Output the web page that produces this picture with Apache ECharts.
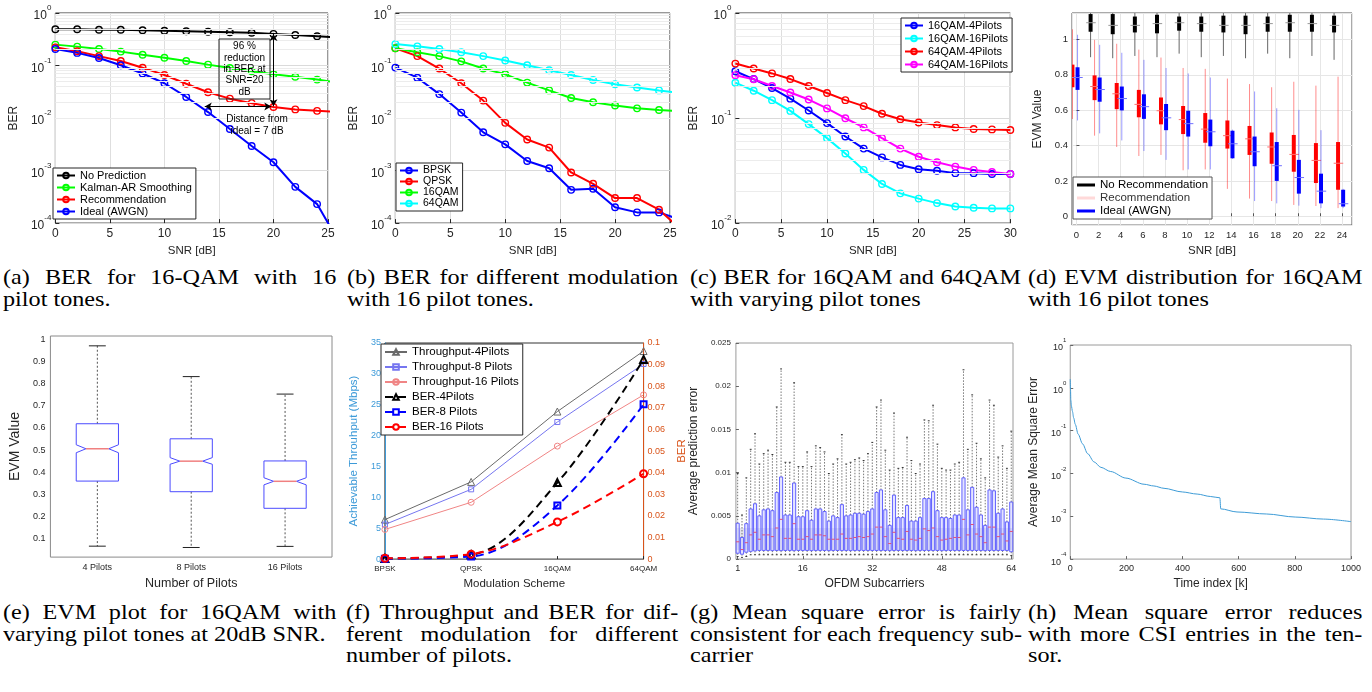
<!DOCTYPE html>
<html>
<head>
<meta charset="utf-8">
<title>CSI prediction results</title>
<script src="https://cdn.jsdelivr.net/npm/echarts@6.0.0/dist/echarts.min.js"></script>
<style>
  body { margin:0; width:1372px; height:692px; overflow:hidden; background:#fff; position:relative; }
  .pane { position:absolute; }
  .cap { position:absolute; font-family:"Liberation Serif","Times New Roman",serif; font-size:22px; line-height:21.5px;
         color:#000; transform:scaleX(1.1); transform-origin:0 0; }
  .cap div { white-space:nowrap; }
  .cap div.j { text-align:justify; text-align-last:justify; }
</style>
</head>
<body>
<div id="pa" class="pane" style="left:0;top:0;width:340px;height:262px"></div>
<div id="pb" class="pane" style="left:340px;top:0;width:340px;height:262px"></div>
<div id="pc" class="pane" style="left:680px;top:0;width:340px;height:262px"></div>
<div id="pd" class="pane" style="left:1020px;top:0;width:352px;height:262px"></div>
<div id="pe" class="pane" style="left:0;top:330px;width:340px;height:265px"></div>
<div id="pf" class="pane" style="left:340px;top:330px;width:356px;height:265px"></div>
<div id="pg" class="pane" style="left:680px;top:330px;width:340px;height:265px"></div>
<div id="ph" class="pane" style="left:1020px;top:330px;width:352px;height:265px"></div>

<div class="cap" style="left:3px;top:266px;width:303px"><div class="j">(a) BER for 16-QAM with 16</div><div>pilot tones.</div></div>
<div class="cap" style="left:347px;top:266px;width:301px"><div class="j">(b) BER for different modulation</div><div>with 16 pilot tones.</div></div>
<div class="cap" style="left:690px;top:266px;width:301px"><div class="j">(c) BER for 16QAM and 64QAM</div><div>with varying pilot tones</div></div>
<div class="cap" style="left:1028px;top:266px;width:304px"><div class="j">(d) EVM distribution for 16QAM</div><div>with 16 pilot tones</div></div>
<div class="cap" style="left:3px;top:601px;width:303px"><div class="j">(e) EVM plot for 16QAM with</div><div>varying pilot tones at 20dB SNR.</div></div>
<div class="cap" style="left:346px;top:601px;width:302px"><div class="j">(f) Throughput and BER for dif-</div><div class="j">ferent modulation for different</div><div>number of pilots.</div></div>
<div class="cap" style="left:690px;top:601px;width:301px"><div class="j">(g) Mean square error is fairly</div><div class="j">consistent for each frequency sub-</div><div>carrier</div></div>
<div class="cap" style="left:1028px;top:601px;width:304px"><div class="j">(h) Mean square error reduces</div><div class="j">with more CSI entries in the ten-</div><div>sor.</div></div>

<script>
// ---------- (a) BER for 16-QAM, 16 pilots ----------
const snrA = [0, 2, 4, 6, 8, 10, 12, 14, 16, 18, 20, 22, 24, 26];
const berNoPred = [0.49, 0.49, 0.48, 0.48, 0.47, 0.46, 0.45, 0.44, 0.43, 0.42, 0.40, 0.38, 0.36, 0.34];
const berKalman = [0.25, 0.229, 0.207, 0.184, 0.16, 0.141, 0.122, 0.104, 0.09, 0.078, 0.068, 0.061, 0.054, 0.047];
const berRecom = [0.222, 0.187, 0.151, 0.122, 0.091, 0.066, 0.045, 0.031, 0.0234, 0.0192, 0.0162, 0.0146, 0.0137, 0.013];
const berIdeal = [0.207, 0.174, 0.139, 0.101, 0.0706, 0.046, 0.0252, 0.013, 0.0062, 0.00294, 0.00144, 0.00049, 0.00023, 0.000044];

// ---------- (b) BER per modulation ----------
const snrB = [0, 2, 4, 6, 8, 10, 12, 14, 16, 18, 20, 22, 24, 26];
const berBpsk = [0.0914, 0.0587, 0.0286, 0.0127, 0.00536, 0.00316, 0.00152, 0.00111, 0.00043, 0.00045, 0.0002, 0.00016, 0.00016, 0.000115];
const berQpsk = [0.213, 0.151, 0.0876, 0.046, 0.0215, 0.0081, 0.0039, 0.00274, 0.00092, 0.00056, 0.0003, 0.0003, 0.00018, 0.000076];
const ber16qam = [0.213, 0.179, 0.151, 0.12, 0.0876, 0.068, 0.0473, 0.0336, 0.0241, 0.02, 0.0173, 0.0153, 0.0142, 0.0136];
const ber64qam = [0.256, 0.232, 0.207, 0.179, 0.151, 0.125, 0.101, 0.0815, 0.0658, 0.053, 0.044, 0.0382, 0.0336, 0.030];

// ---------- (c) BER vs pilots ----------
const snrC = [0, 2, 4, 6, 8, 10, 12, 14, 16, 18, 20, 22, 24, 26, 28, 30];
const ber16p4 = [0.279, 0.235, 0.193, 0.153, 0.118, 0.0895, 0.0667, 0.0512, 0.0422, 0.0358, 0.0326, 0.0315, 0.0299, 0.0299, 0.0293, 0.0294];
const ber16p16 = [0.217, 0.182, 0.148, 0.117, 0.0876, 0.0644, 0.046, 0.0321, 0.0236, 0.0192, 0.0171, 0.0155, 0.0144, 0.014, 0.0138, 0.0138];
const ber64p4 = [0.33, 0.296, 0.266, 0.235, 0.202, 0.173, 0.148, 0.13, 0.11, 0.0975, 0.0908, 0.0857, 0.0815, 0.0787, 0.078, 0.077];
const ber64p16 = [0.256, 0.234, 0.202, 0.175, 0.15, 0.1236, 0.0996, 0.0815, 0.0644, 0.0512, 0.0428, 0.0379, 0.0345, 0.0321, 0.0306, 0.0294];

// ---------- (d) EVM distribution ----------
const snrD = [0, 2, 4, 6, 8, 10, 12, 14, 16, 18, 20, 22, 24];
const recLow = [0.55, 0.456, 0.392, 0.341, 0.347, 0.26, 0.265, 0.155, 0.10, 0.086, 0.064, 0.058, 0.046];
const recQ1 = [0.73, 0.657, 0.606, 0.56, 0.52, 0.465, 0.416, 0.383, 0.347, 0.297, 0.252, 0.188, 0.15];
const recMed = [0.785, 0.734, 0.693, 0.633, 0.597, 0.547, 0.493, 0.456, 0.438, 0.392, 0.35, 0.316, 0.30];
const recQ3 = [0.858, 0.797, 0.754, 0.715, 0.672, 0.624, 0.584, 0.542, 0.511, 0.474, 0.46, 0.414, 0.42];
const recHigh = [1.058, 0.998, 0.976, 0.943, 0.898, 0.839, 0.834, 0.779, 0.748, 0.73, 0.761, 0.739, 0.79];
const idLow = [0.542, 0.469, 0.429, 0.369, 0.319, 0.265, 0.265, 0.325, 0.086, 0.073, 0.06, 0.046, 0.046];
const idQ1 = [0.715, 0.648, 0.599, 0.551, 0.487, 0.451, 0.396, 0.328, 0.283, 0.20, 0.128, 0.073, 0.055];
const idMed = [0.785, 0.717, 0.666, 0.62, 0.557, 0.524, 0.478, 0.41, 0.365, 0.286, 0.219, 0.142, 0.071];
const idQ3 = [0.843, 0.785, 0.734, 0.69, 0.635, 0.597, 0.547, 0.484, 0.451, 0.42, 0.319, 0.241, 0.15];
const idHigh = [1.027, 0.97, 0.925, 0.885, 0.839, 0.808, 0.785, 0.49, 0.706, 0.611, 0.602, 0.487, 0.155];
const snrNoRec = [0, 2, 4, 6, 8, 10, 12, 14, 16, 18, 20, 22];
const noRecLow = [0.90, 0.894, 0.907, 0.90, 0.92, 0.90, 0.907, 0.894, 0.92, 0.894, 0.907, 0.885];
const noRecQ1 = [1.044, 1.03, 1.04, 1.035, 1.05, 1.044, 1.04, 1.03, 1.044, 1.044, 1.044, 1.04];
const noRecMed = [1.095, 1.08, 1.08, 1.09, 1.095, 1.09, 1.08, 1.08, 1.09, 1.095, 1.09, 1.08];
const noRecQ3 = [1.144, 1.144, 1.13, 1.14, 1.13, 1.13, 1.135, 1.135, 1.13, 1.14, 1.14, 1.135];
const noRecHigh = [1.17, 1.17, 1.17, 1.17, 1.17, 1.17, 1.17, 1.17, 1.17, 1.17, 1.17, 1.17];

// ---------- (e) EVM vs pilots at 20 dB ----------
const pilotCats = ['4 Pilots', '8 Pilots', '16 Pilots'];
const evmLow = [0.066, 0.060, 0.065];
const evmQ1 = [0.360, 0.312, 0.237];
const evmMed = [0.506, 0.450, 0.359];
const evmQ3 = [0.619, 0.551, 0.451];
const evmHigh = [0.971, 0.832, 0.753];
const evmNotchLo = [0.488, 0.436, 0.343];
const evmNotchHi = [0.524, 0.466, 0.375];

// ---------- (f) throughput and BER ----------
const mods = ['BPSK', 'QPSK', '16QAM', '64QAM'];
const thr4 = [6.4, 12.5, 23.9, 33.7];
const thr8 = [5.6, 11.3, 22.2, 31.6];
const thr16 = [4.8, 9.2, 18.3, 26.6];
const berF4 = [0.0003, 0.002, 0.0354, 0.0924];
const berF8 = [0.0002, 0.0012, 0.0248, 0.0716];
const berF16 = [0.0004, 0.0023, 0.0172, 0.0395];

// ---------- (g) prediction error per subcarrier ----------
const subc = [1, 2, 3, 4, 5, 6, 7, 8, 9, 10, 11, 12, 13, 14, 15, 16, 17, 18, 19, 20, 21, 22, 23, 24, 25, 26, 27, 28, 29, 30, 31, 32,
  33, 34, 35, 36, 37, 38, 39, 40, 41, 42, 43, 44, 45, 46, 47, 48, 49, 50, 51, 52, 53, 54, 55, 56, 57, 58, 59, 60, 61, 62, 63, 64];
const errLow = [0.0003, 0.0002, 0.0003, 0.0005, 0.0005, 0.0005, 0.0005, 0.0005, 0.0005, 0.0005, 0.0005, 0.0005, 0.0005, 0.0005, 0.0005, 0.0005,
  0.0005, 0.0005, 0.0005, 0.0005, 0.0005, 0.0005, 0.0005, 0.0005, 0.0005, 0.0005, 0.0005, 0.0005, 0.0005, 0.0005, 0.0005, 0.0005,
  0.0005, 0.0005, 0.0005, 0.0005, 0.0005, 0.0005, 0.0005, 0.0005, 0.0005, 0.0005, 0.0005, 0.0005, 0.0005, 0.0005, 0.0005, 0.0005,
  0.0005, 0.0005, 0.0005, 0.0005, 0.0005, 0.0005, 0.0005, 0.0005, 0.0005, 0.0005, 0.0005, 0.0005, 0.0005, 0.0005, 0.0005, 0.0004];
const errQ1 = [0.00068, 0.00057, 0.0008, 0.0009, 0.00095, 0.001, 0.001, 0.001, 0.00098, 0.001, 0.00098, 0.001, 0.001, 0.00098, 0.001, 0.001,
  0.001, 0.00098, 0.001, 0.001, 0.001, 0.00098, 0.001, 0.001, 0.001, 0.001, 0.00098, 0.001, 0.001, 0.001, 0.001, 0.001,
  0.001, 0.001, 0.001, 0.00098, 0.001, 0.001, 0.001, 0.001, 0.001, 0.00098, 0.001, 0.001, 0.001, 0.001, 0.001, 0.00098,
  0.001, 0.001, 0.001, 0.001, 0.001, 0.001, 0.001, 0.001, 0.001, 0.00098, 0.001, 0.001, 0.001, 0.001, 0.001, 0.00085];
const errMed = [0.0020, 0.0011, 0.0019, 0.0028, 0.0031, 0.0023, 0.0028, 0.0028, 0.0026, 0.0036, 0.0046, 0.0024, 0.0024, 0.0041, 0.0023, 0.0023,
  0.0026, 0.0023, 0.0028, 0.0028, 0.0027, 0.0023, 0.0023, 0.0023, 0.0029, 0.0024, 0.0024, 0.0025, 0.0026, 0.0025, 0.0026, 0.0029,
  0.0037, 0.0037, 0.0026, 0.0018, 0.0031, 0.0024, 0.0023, 0.0032, 0.0023, 0.0022, 0.0024, 0.0035, 0.0033, 0.0036, 0.0026, 0.0022,
  0.0023, 0.0024, 0.0025, 0.0025, 0.0046, 0.0028, 0.0040, 0.0029, 0.0026, 0.0019, 0.0037, 0.0037, 0.0026, 0.0029, 0.0021, 0.0032];
const errQ3 = [0.00415, 0.0025, 0.0041, 0.0058, 0.0064, 0.005, 0.0057, 0.0058, 0.0056, 0.0077, 0.0095, 0.0051, 0.0051, 0.0088, 0.0049, 0.0049,
  0.0056, 0.0045, 0.0058, 0.0058, 0.0055, 0.0044, 0.005, 0.0048, 0.0063, 0.005, 0.0051, 0.0053, 0.0053, 0.0052, 0.0055, 0.0058,
  0.0077, 0.008, 0.0057, 0.0039, 0.0074, 0.0048, 0.0048, 0.0062, 0.0044, 0.0044, 0.0048, 0.007, 0.007, 0.0078, 0.0056, 0.0048,
  0.0048, 0.0047, 0.0051, 0.0051, 0.0094, 0.0057, 0.0083, 0.006, 0.0051, 0.0039, 0.008, 0.0079, 0.0053, 0.0058, 0.0043, 0.0066];
const errHigh = [0.0099, 0.0051, 0.0094, 0.0127, 0.0145, 0.011, 0.0122, 0.0126, 0.0121, 0.0176, 0.022, 0.0112, 0.0112, 0.0204, 0.0107, 0.0107,
  0.0124, 0.0107, 0.0131, 0.0129, 0.0124, 0.0099, 0.011, 0.0116, 0.0144, 0.011, 0.0112, 0.0115, 0.0117, 0.0114, 0.0122, 0.0135,
  0.0176, 0.0184, 0.0126, 0.0103, 0.0169, 0.0105, 0.0106, 0.0141, 0.0114, 0.0099, 0.011, 0.0161, 0.016, 0.0178, 0.0133, 0.0105,
  0.0103, 0.0103, 0.011, 0.0112, 0.0219, 0.0127, 0.019, 0.0134, 0.0116, 0.0094, 0.0184, 0.0178, 0.0118, 0.0131, 0.0105, 0.0148];

// ---------- (h) MSE over time ----------
const timeIdx = [0, 1, 2, 4, 8, 12, 18, 28, 44, 62, 85, 109, 144, 198, 263, 298, 334, 399, 452, 499, 533, 536, 594, 700, 801, 902, 1000];
const mseVal = [1.6, 0.9, 0.52, 0.38, 0.28, 0.2, 0.14, 0.083, 0.049, 0.029, 0.0186, 0.0139, 0.0111, 0.0078, 0.0056, 0.0051, 0.0045,
  0.0037, 0.0033, 0.0029, 0.0027, 0.00149, 0.00126, 0.00113, 0.00096, 0.00086, 0.00075];

const AX = '#262626';
const SANS = '"Liberation Sans", Arial, sans-serif';
const txt = (size, color) => ({fontSize: size, color: color || AX, fontFamily: SANS});
const pairs = (xs, ys) => xs.map((x, i) => [x, ys[i]]);

function pow10Labels(size) {
  return {
    color: AX, margin: 4,
    formatter: v => '{b|10}{e|' + Math.round(Math.log10(v)) + '}',
    rich: {
      b: {fontSize: size, fontFamily: SANS, color: AX, lineHeight: size + 6, verticalAlign: 'bottom'},
      e: {fontSize: Math.round(size * 0.7), fontFamily: SANS, color: AX, lineHeight: size, verticalAlign: 'top'}
    }
  };
}

function minorLogGrid(e0, e1) {
  const d = [];
  for (let e = e0; e < e1; e++) for (let m = 2; m < 10; m++) d.push({yAxis: m * Math.pow(10, e)});
  return {type: 'line', data: [], z: 1, silent: true,
    markLine: {silent: true, symbol: 'none', animation: false, label: {show: false},
      lineStyle: {color: '#ececec', width: 1, type: 'solid'}, data: d}};
}

function berSeries(name, xs, ys, color) {
  return {
    name: name, type: 'line', z: 3, data: pairs(xs, ys),
    symbol: 'circle', symbolSize: 6.5,
    lineStyle: {color: color, width: 2},
    itemStyle: {color: 'rgba(255,255,255,0)', borderColor: color, borderWidth: 1.4}
  };
}

function snrAxis(max, nameGap) {
  return {
    type: 'value', min: 0, max: max, interval: 5,
    name: 'SNR [dB]', nameLocation: 'middle', nameGap: nameGap, nameTextStyle: txt(11.5),
    axisLine: {show: false}, axisTick: {inside: true, length: 4, lineStyle: {color: AX}},
    axisLabel: Object.assign(txt(12), {margin: 5}),
    splitLine: {show: true, lineStyle: {color: '#dedede'}}
  };
}

function berAxis(min, nameGap) {
  return {
    type: 'log', logBase: 10, min: min, max: 1,
    name: 'BER', nameLocation: 'middle', nameGap: nameGap, nameTextStyle: txt(12),
    axisLine: {show: false}, axisTick: {inside: true, length: 4, lineStyle: {color: AX}},
    axisLabel: pow10Labels(12),
    splitLine: {show: true, lineStyle: {color: '#dadada'}}
  };
}

function boxLegend(left, top, names, size, gap) {
  return {
    orient: 'vertical', left: left, top: top, data: names, z: 20,
    padding: [2, 4, 2, 3], itemGap: gap, itemWidth: 18, itemHeight: 7,
    borderColor: AX, borderWidth: 1, backgroundColor: '#fff',
    textStyle: txt(size, '#000')
  };
}

// ---------- (a) ----------
echarts.init(document.getElementById('pa')).setOption({
  animation: false,
  grid: {left: 49, top: 13, width: 279, height: 215, show: true, borderColor: '#333', borderWidth: 1},
  xAxis: snrAxis(25, 20),
  yAxis: berAxis(1e-4, 31),
  legend: boxLegend(53, 168, ['No Prediction', 'Kalman-AR Smoothing', 'Recommendation', 'Ideal (AWGN)'], 11, 1),
  series: [
    minorLogGrid(-4, 0),
    berSeries('No Prediction', snrA, berNoPred, '#000000'),
    berSeries('Kalman-AR Smoothing', snrA, berKalman, '#00ff00'),
    Object.assign(berSeries('Recommendation', snrA, berRecom, '#ff0000'), {
      markLine: {silent: true, symbol: ['arrow', 'arrow'], symbolSize: [6, 7], label: {show: false},
        lineStyle: {color: '#000', width: 1, type: 'solid'},
        data: [[{coord: [20, 0.40]}, {coord: [20, 0.0168]}], [{coord: [13.7, 0.0166]}, {coord: [19.8, 0.0166]}]]}
    }),
    berSeries('Ideal (AWGN)', snrA, berIdeal, '#0000ff')
  ],
  graphic: [
    {type: 'rect', z: 10, shape: {x: 219, y: 39, width: 51, height: 60}, style: {fill: 'none', stroke: '#222', lineWidth: 1}},
    {type: 'text', z: 10, x: 244.5, y: 41, style: {text: '96 %\nreduction\nin BER at\nSNR=20\ndB', align: 'center',
      font: '10px ' + SANS, fill: '#000', lineHeight: 11.3}},
    {type: 'text', z: 10, x: 257, y: 113, style: {text: 'Distance from\nideal = 7 dB', align: 'center',
      font: '10px ' + SANS, fill: '#000', lineHeight: 12}}
  ]
});

// ---------- (b) ----------
echarts.init(document.getElementById('pb')).setOption({
  animation: false,
  grid: {left: 51, top: 13, width: 279, height: 215, show: true, borderColor: '#333', borderWidth: 1},
  xAxis: snrAxis(25, 20),
  yAxis: berAxis(1e-4, 31),
  legend: boxLegend(56, 163, ['BPSK', 'QPSK', '16QAM', '64QAM'], 10.5, 0),
  series: [
    minorLogGrid(-4, 0),
    berSeries('BPSK', snrB, berBpsk, '#0000ff'),
    berSeries('QPSK', snrB, berQpsk, '#ff0000'),
    berSeries('16QAM', snrB, ber16qam, '#00ff00'),
    berSeries('64QAM', snrB, ber64qam, '#00ffff')
  ]
});

// ---------- (c) ----------
echarts.init(document.getElementById('pc')).setOption({
  animation: false,
  grid: {left: 53, top: 13, width: 280, height: 215, show: true, borderColor: '#333', borderWidth: 1},
  xAxis: snrAxis(30, 20),
  yAxis: berAxis(0.01, 30),
  legend: boxLegend(221, 18, ['16QAM-4Pilots', '16QAM-16Pilots', '64QAM-4Pilots', '64QAM-16Pilots'], 11, 2),
  series: [
    minorLogGrid(-2, 0),
    berSeries('16QAM-4Pilots', snrC, ber16p4, '#0000ff'),
    berSeries('16QAM-16Pilots', snrC, ber16p16, '#00ffff'),
    berSeries('64QAM-4Pilots', snrC, ber64p4, '#ff0000'),
    berSeries('64QAM-16Pilots', snrC, ber64p16, '#ff00ff')
  ]
});

// ---------- (d) ----------
function evmBox(fill, whisk, medCol) {
  return function (params, api) {
    const x = api.value(0);
    const lo = api.coord([x, api.value(1)]), q1 = api.coord([x, api.value(2)]), md = api.coord([x, api.value(3)]);
    const q3 = api.coord([x, api.value(4)]), hi = api.coord([x, api.value(5)]);
    const w = api.size([0.36, 0])[0];
    return {type: 'group', children: [
      {type: 'line', shape: {x1: lo[0], y1: lo[1], x2: hi[0], y2: hi[1]}, style: {stroke: whisk, lineWidth: 1}},
      {type: 'rect', shape: {x: q3[0] - w / 2, y: q3[1], width: w, height: q1[1] - q3[1]}, style: {fill: fill}},
      {type: 'line', shape: {x1: md[0] - w * 1.1, y1: md[1], x2: md[0] + w * 1.3, y2: md[1]}, style: {stroke: medCol, lineWidth: 1}}
    ]};
  };
}
const boxRows = (xs, off, a, b, c, d, e) => xs.map((s, i) => [s + off, a[i], b[i], c[i], d[i], e[i]]);

echarts.init(document.getElementById('pd')).setOption({
  animation: false,
  grid: {left: 52, top: 13, width: 280, height: 220, show: true, borderColor: '#555', borderWidth: 1},
  xAxis: {
    type: 'value', min: -0.4, max: 24.9, splitNumber: 12,
    name: 'SNR [dB]', nameLocation: 'middle', nameGap: 15, nameTextStyle: txt(11.5),
    axisLine: {show: false}, axisTick: {inside: true, length: 3, lineStyle: {color: '#555'}},
    axisLabel: Object.assign(txt(9.5), {margin: 5, showMinLabel: false, showMaxLabel: false}),
    splitLine: {show: true, lineStyle: {color: '#e6e6e6'}}
  },
  yAxis: {
    type: 'value', min: -0.05, max: 1.15, splitNumber: 6,
    name: 'EVM Value', nameLocation: 'middle', nameGap: 19, nameTextStyle: txt(12),
    axisLine: {show: false}, axisTick: {inside: true, length: 3, lineStyle: {color: '#555'}},
    axisLabel: Object.assign(txt(9.5), {margin: 4, showMinLabel: false, showMaxLabel: false}),
    splitLine: {show: true, lineStyle: {color: '#e6e6e6'}}
  },
  legend: {
    orient: 'vertical', left: 53, top: 177, z: 20, padding: [2, 4, 2, 4], itemGap: 1, itemWidth: 18, itemHeight: 3,
    borderColor: '#555', borderWidth: 1, backgroundColor: '#fff', textStyle: txt(11.5, '#000'),
    data: [
      {name: 'No Recommendation', icon: 'rect'},
      {name: 'Recommendation', icon: 'rect', itemStyle: {color: 'rgba(255,0,0,0.15)'}, textStyle: {color: '#333'}},
      {name: 'Ideal (AWGN)', icon: 'rect'}
    ]
  },
  series: [
    {name: 'No Recommendation', type: 'custom', clip: true, itemStyle: {color: '#000'},
      encode: {x: 0, y: [1, 2, 3, 4, 5]},
      renderItem: evmBox('#000', '#666', '#999'),
      data: boxRows(snrNoRec, 1.28, noRecLow, noRecQ1, noRecMed, noRecQ3, noRecHigh)},
    {name: 'Recommendation', type: 'custom', clip: true, itemStyle: {color: '#ff0000'},
      encode: {x: 0, y: [1, 2, 3, 4, 5]},
      renderItem: evmBox('#ff0000', 'rgba(255,0,0,0.45)', '#ff7070'),
      data: boxRows(snrD, -0.36, recLow, recQ1, recMed, recQ3, recHigh)},
    {name: 'Ideal (AWGN)', type: 'custom', clip: true, itemStyle: {color: '#0000ff'},
      encode: {x: 0, y: [1, 2, 3, 4, 5]},
      renderItem: evmBox('#0000ff', 'rgba(0,0,255,0.4)', '#7070ff'),
      data: boxRows(snrD, 0.1, idLow, idQ1, idMed, idQ3, idHigh)}
  ]
});

// ---------- (e) ----------
echarts.init(document.getElementById('pe')).setOption({
  animation: false,
  grid: {left: 41, top: 6, width: 291, height: 227, show: true, borderColor: '#8a8a8a', borderWidth: 1},
  xAxis: {
    type: 'category', data: pilotCats, boundaryGap: true,
    name: 'Number of Pilots', nameLocation: 'middle', nameGap: 17, nameTextStyle: txt(12.5),
    axisLine: {show: false}, axisTick: {show: false},
    axisLabel: Object.assign(txt(9), {margin: 6})
  },
  yAxis: {
    type: 'value', min: 0.0166, max: 1.0154, splitNumber: 10,
    name: 'EVM Value', nameLocation: 'middle', nameGap: 19, nameTextStyle: txt(14),
    axisLine: {show: false}, axisTick: {inside: true, length: 3, lineStyle: {color: '#666'}},
    axisLabel: Object.assign(txt(9), {margin: 5, showMinLabel: false, showMaxLabel: false}),
    splitLine: {show: false}
  },
  series: [{
    type: 'custom', encode: {x: 0, y: [1, 2, 3, 4, 5, 6, 7]},
    data: pilotCats.map((c, i) => [i, evmLow[i], evmQ1[i], evmMed[i], evmQ3[i], evmHigh[i], evmNotchLo[i], evmNotchHi[i]]),
    renderItem: function (params, api) {
      const i = api.value(0);
      const lo = api.coord([i, api.value(1)]), q1 = api.coord([i, api.value(2)]), md = api.coord([i, api.value(3)]);
      const q3 = api.coord([i, api.value(4)]), hi = api.coord([i, api.value(5)]);
      const nl = api.coord([i, api.value(6)]), nh = api.coord([i, api.value(7)]);
      const w = api.size([1, 0])[0] * 0.45, x0 = md[0], L = x0 - w / 2, R = x0 + w / 2, ins = w * 0.23, cw = w * 0.4;
      return {type: 'group', children: [
        {type: 'line', shape: {x1: x0, y1: q3[1], x2: x0, y2: hi[1]}, style: {stroke: '#555', lineWidth: 1, lineDash: [2, 2]}},
        {type: 'line', shape: {x1: x0, y1: q1[1], x2: x0, y2: lo[1]}, style: {stroke: '#555', lineWidth: 1, lineDash: [2, 2]}},
        {type: 'line', shape: {x1: x0 - cw / 2, y1: hi[1], x2: x0 + cw / 2, y2: hi[1]}, style: {stroke: '#222', lineWidth: 1}},
        {type: 'line', shape: {x1: x0 - cw / 2, y1: lo[1], x2: x0 + cw / 2, y2: lo[1]}, style: {stroke: '#222', lineWidth: 1}},
        {type: 'polygon', shape: {points: [[L, q1[1]], [R, q1[1]], [R, nl[1]], [R - ins, md[1]], [R, nh[1]], [R, q3[1]],
          [L, q3[1]], [L, nh[1]], [L + ins, md[1]], [L, nl[1]]]}, style: {fill: 'none', stroke: '#4b4bff', lineWidth: 1}},
        {type: 'line', shape: {x1: L + ins, y1: md[1], x2: R - ins, y2: md[1]}, style: {stroke: '#f08080', lineWidth: 1.5}}
      ]};
    }
  }]
});

// ---------- (f) ----------
const BLUE_AX = '#3d9ad8', ORANGE_AX = '#d95319';
function thrSeries(name, ys, color, symbol, size) {
  return {name: name, type: 'line', yAxisIndex: 0, data: ys, symbol: symbol, symbolSize: size, z: 3,
    lineStyle: {color: color, width: 1}, itemStyle: {color: 'rgba(255,255,255,0)', borderColor: color, borderWidth: 1}};
}
function berDash(name, ys, color, symbol, size) {
  return {name: name, type: 'line', yAxisIndex: 1, data: ys, symbol: symbol, symbolSize: size, smooth: 0.35, z: 4,
    lineStyle: {color: color, width: 2, type: [8, 5]}, itemStyle: {color: 'rgba(255,255,255,0)', borderColor: color, borderWidth: 2}};
}
echarts.init(document.getElementById('pf')).setOption({
  animation: false,
  grid: {left: 38, top: 13, width: 275, height: 221, show: true, borderColor: '#333', borderWidth: 1},
  xAxis: {
    type: 'category', data: mods, boundaryGap: false,
    name: 'Modulation Scheme', nameLocation: 'middle', nameGap: 17, nameTextStyle: txt(11.5),
    axisLine: {show: false}, axisTick: {inside: true, length: 3, lineStyle: {color: AX}},
    axisLabel: Object.assign(txt(8), {margin: 6})
  },
  yAxis: [
    {type: 'value', min: 0, max: 35, interval: 5, position: 'left',
      name: 'Achievable Throuhput (Mbps)', nameLocation: 'middle', nameGap: 15, nameTextStyle: txt(11.5, BLUE_AX),
      axisLine: {show: true, lineStyle: {color: BLUE_AX}}, axisTick: {inside: true, length: 3, lineStyle: {color: BLUE_AX}},
      axisLabel: Object.assign(txt(9, BLUE_AX), {margin: 4}), splitLine: {show: false}},
    {type: 'value', min: 0, max: 0.1, interval: 0.01, position: 'right',
      name: 'BER', nameLocation: 'middle', nameGap: 28, nameTextStyle: txt(11.5, ORANGE_AX),
      axisLine: {show: true, lineStyle: {color: ORANGE_AX}}, axisTick: {inside: true, length: 3, lineStyle: {color: ORANGE_AX}},
      axisLabel: Object.assign(txt(9, ORANGE_AX), {margin: 4}), splitLine: {show: false}}
  ],
  legend: {
    orient: 'vertical', left: 41, top: 14, z: 20, padding: [2, 4, 2, 3], itemGap: 3, itemWidth: 22, itemHeight: 7,
    borderColor: AX, borderWidth: 1, backgroundColor: '#fff', textStyle: txt(11.5, '#000'),
    data: ['Throughput-4Pilots', 'Throughput-8 Pilots', 'Throughput-16 Pilots', 'BER-4Pilots', 'BER-8 Pilots', 'BER-16 Pilots']
  },
  series: [
    thrSeries('Throughput-4Pilots', thr4, '#6a6a6a', 'triangle', 7),
    thrSeries('Throughput-8 Pilots', thr8, '#7676f0', 'rect', 5),
    thrSeries('Throughput-16 Pilots', thr16, '#f08585', 'circle', 6),
    berDash('BER-4Pilots', berF4, '#000000', 'triangle', 7),
    berDash('BER-8 Pilots', berF8, '#0000ff', 'rect', 6),
    berDash('BER-16 Pilots', berF16, '#ff0000', 'circle', 7)
  ]
});

// ---------- (g) ----------
echarts.init(document.getElementById('pg')).setOption({
  animation: false,
  grid: {left: 53, top: 13, width: 280, height: 221, show: true, borderColor: '#9a9a9a', borderWidth: 1},
  xAxis: {
    type: 'value', min: 0.6, max: 64.4,
    name: 'OFDM Subcarriers', nameLocation: 'middle', nameGap: 17, nameTextStyle: txt(12),
    axisLine: {show: false},
    axisTick: {inside: true, length: 3, lineStyle: {color: '#666'}, customValues: [1, 16, 32, 48, 64]},
    axisLabel: Object.assign(txt(9), {margin: 5, customValues: [1, 16, 32, 48, 64]}),
    splitLine: {show: false}
  },
  yAxis: {
    type: 'value', min: 0, max: 0.025, interval: 0.005,
    name: 'Average prediction error', nameLocation: 'middle', nameGap: 28, nameTextStyle: txt(12),
    axisLine: {show: false}, axisTick: {inside: true, length: 3, lineStyle: {color: '#666'}},
    axisLabel: Object.assign(txt(8), {margin: 5}), splitLine: {show: false}
  },
  series: [{
    type: 'custom', clip: true, encode: {x: 0, y: [1, 2, 3, 4, 5]},
    data: subc.map((n, i) => [n, errLow[i], errQ1[i], errMed[i], errQ3[i], errHigh[i]]),
    markArea: {silent: true, itemStyle: {color: 'rgba(170,170,200,0.32)'},
      data: [[{coord: [0.6, 0.00105]}, {coord: [64.4, 0.0036]}]]},
    renderItem: function (params, api) {
      const n = api.value(0);
      const lo = api.coord([n, api.value(1)]), q1 = api.coord([n, api.value(2)]), md = api.coord([n, api.value(3)]);
      const q3 = api.coord([n, api.value(4)]), hi = api.coord([n, api.value(5)]);
      const w = api.size([0.72, 0])[0], x0 = md[0], cw = w * 0.6;
      return {type: 'group', children: [
        {type: 'line', shape: {x1: x0, y1: q3[1], x2: x0, y2: hi[1]}, style: {stroke: '#555', lineWidth: 0.8, lineDash: [1.5, 1.5]}},
        {type: 'line', shape: {x1: x0, y1: q1[1], x2: x0, y2: lo[1]}, style: {stroke: '#555', lineWidth: 0.8, lineDash: [1.5, 1.5]}},
        {type: 'line', shape: {x1: x0 - cw / 2, y1: hi[1], x2: x0 + cw / 2, y2: hi[1]}, style: {stroke: '#333', lineWidth: 1}},
        {type: 'line', shape: {x1: x0 - cw / 2, y1: lo[1], x2: x0 + cw / 2, y2: lo[1]}, style: {stroke: '#333', lineWidth: 1}},
        {type: 'rect', shape: {x: x0 - w / 2, y: q3[1], width: w, height: q1[1] - q3[1]},
          style: {fill: 'rgba(195,195,255,0.45)', stroke: '#6464ff', lineWidth: 1}},
        {type: 'line', shape: {x1: x0 - w / 2, y1: md[1], x2: x0 + w / 2, y2: md[1]}, style: {stroke: '#e0507a', lineWidth: 1}}
      ]};
    }
  }]
});

// ---------- (h) ----------
echarts.init(document.getElementById('ph')).setOption({
  animation: false,
  grid: {left: 49, top: 15, width: 282, height: 220, show: true, borderColor: '#9a9a9a', borderWidth: 1},
  xAxis: {
    type: 'value', min: 0, max: 1000, interval: 200,
    name: 'Time index [k]', nameLocation: 'middle', nameGap: 16, nameTextStyle: txt(12),
    axisLine: {show: false}, axisTick: {inside: true, length: 3, lineStyle: {color: '#666'}},
    axisLabel: Object.assign(txt(9), {margin: 5, formatter: v => String(v)}), splitLine: {show: false}
  },
  yAxis: {
    type: 'log', logBase: 10, min: 1e-4, max: 10,
    name: 'Average Mean Square Error', nameLocation: 'middle', nameGap: 22, nameTextStyle: txt(12),
    axisLine: {show: false}, axisTick: {inside: true, length: 3, lineStyle: {color: '#666'}},
    axisLabel: pow10Labels(9), splitLine: {show: false}
  },
  series: [{
    type: 'line', data: pairs(timeIdx, mseVal), showSymbol: false, smooth: 0.3, smoothMonotone: 'x',
    lineStyle: {color: '#3d9bd6', width: 1}
  }]
});
</script>
</body>
</html>
